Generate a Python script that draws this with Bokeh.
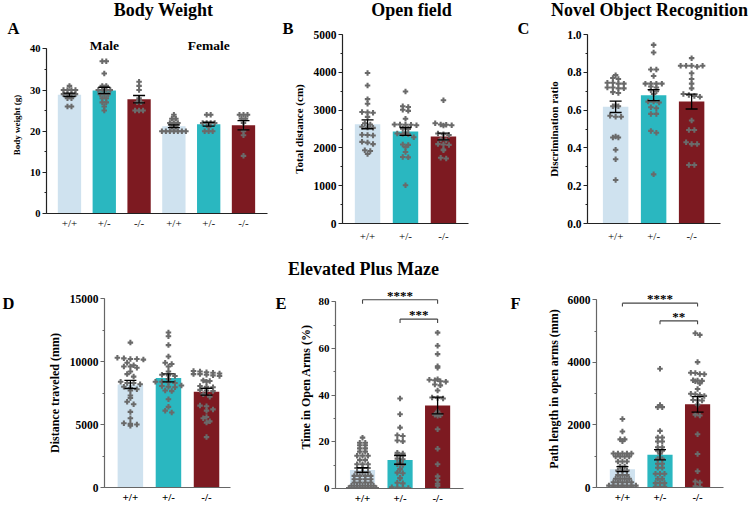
import numpy as np
from bokeh.plotting import figure
from bokeh.layouts import row, column
from bokeh.models import Range1d, FixedTicker, SingleIntervalTicker, NumeralTickFormatter, Label
from bokeh.embed import file_html
from bokeh.resources import INLINE

# ---------------- data ----------------
GENOTYPES = ["+/+", "+/-", "-/-"]
COLORS = ["#cfe2ef", "#2ab7c0", "#7d1a21"]

# A: Body weight (g)
bw_male_wt = [31, 30, 30, 30, 30, 29, 29, 29, 29, 28, 28, 26, 26]
bw_male_het = [37, 37, 34, 31, 31, 30, 30, 30, 30, 29, 29, 29, 28, 28, 27, 27, 26, 25]
bw_male_ko = [32, 31, 30, 28, 27, 27, 25, 25, 25]
bw_female_wt = [24, 23, 23, 22, 22, 22, 21, 21, 20, 20, 20, 20, 20, 20, 20]
bw_female_het = [24, 24, 22, 22, 22, 22, 21, 20, 20, 20]
bw_female_ko = [24, 24, 24, 23, 23, 22, 20, 19, 14]
sex_labels = ["Male", "Female"]

# B: Open field total distance (cm)
of_wt = [3980, 3650, 3290, 3170, 2950, 2940, 2930, 2820, 2650, 2620, 2560, 2540, 2530,
         2350, 2340, 2330, 2160, 2140, 2100, 1940, 1920, 1840]
of_het = [3490, 3100, 3080, 3010, 2980, 2770, 2620, 2620, 2610, 2610, 2600, 2510, 2500,
          2390, 2380, 2370, 2360, 2280, 2090, 2080, 2020, 1890, 1760, 1750, 1010]
of_ko = [3260, 2650, 2620, 2610, 2600, 2590, 2380, 2360, 2340, 2220, 2200, 2100, 2090,
         2080, 1960, 1940, 1740, 1720]

# C: NOR discrimination ratio
nor_wt = [0.785, 0.77, 0.765, 0.745, 0.745, 0.74, 0.74, 0.72, 0.72, 0.715, 0.715, 0.695,
          0.69, 0.625, 0.62, 0.62, 0.57, 0.565, 0.565, 0.46, 0.455, 0.455, 0.39, 0.34, 0.23]
nor_het = [0.945, 0.905, 0.815, 0.815, 0.78, 0.74, 0.74, 0.74, 0.74, 0.725, 0.72, 0.705,
           0.70, 0.685, 0.645, 0.645, 0.64, 0.615, 0.61, 0.58, 0.58, 0.49, 0.48, 0.26]
nor_ko = [0.875, 0.835, 0.835, 0.835, 0.83, 0.835, 0.795, 0.765, 0.74, 0.715, 0.685, 0.68,
          0.675, 0.67, 0.545, 0.495, 0.495, 0.43, 0.42, 0.42, 0.31, 0.31]

# D: EPM distance traveled (mm)
epm_dist_wt = [11500, 10300, 10250, 10200, 10200, 10150, 9900, 9700, 9600, 9600, 9500, 9200,
               9000, 8800, 8400, 8300, 8300, 8200, 8000, 7900, 7800, 7700, 7300, 7100, 6800,
               6600, 6000, 5500, 5100, 5050, 5000, 4900]
epm_dist_het = [12300, 12000, 11300, 10400, 9900, 9800, 9600, 9200, 8950, 8900, 8850, 8600,
                8400, 8400, 8350, 8300, 8100, 8050, 8000, 7950, 7700, 7650, 7000, 6400, 6100, 5950]
epm_dist_ko = [9250, 9200, 9150, 9100, 9050, 9000, 9000, 8950, 8900, 8850, 8500, 8450, 8400,
               8050, 8000, 7950, 7750, 7700, 7650, 7400, 7200, 6500, 6450, 6200, 6100, 5600,
               5500, 5250, 5150, 4000]

# E: time in open arms (%)
epm_time_wt = [21.8, 19.6, 19.6, 18.5, 18.5, 17.2, 17.2, 15.8, 15.8, 14.0, 14.0, 14.0, 12.2,
               12.2, 10.4, 10.4, 10.4, 8.8, 8.8, 8.8, 7.0, 7.0, 7.0, 5.4, 5.4, 5.4, 5.4, 4.0,
               4.0, 4.0, 4.0, 2.6, 2.6, 2.6, 2.6, 1.2, 1.2, 1.2, 1.2, 1.2, 0.2, 0.2, 0.2, 0.2,
               0.2, 0.2]
epm_time_het = [38.6, 31.8, 26.1, 22.8, 22.5, 20.6, 20.2, 15.3, 15.0, 14.6, 14.2, 12.8, 12.5,
                11.0, 10.4, 10.1, 8.5, 8.2, 6.8, 6.5, 4.6, 4.3, 2.5, 2.2, 0.5, 0.4, 0.3, 0.2]
epm_time_ko = [66.8, 61.2, 57.6, 52.4, 51.8, 46.8, 46.6, 46.4, 46.0, 45.8, 44.6, 44.2, 42.0,
               39.0, 38.8, 38.6, 33.0, 31.6, 31.4, 31.2, 25.4, 17.0, 10.4, 5.2, 3.6, 2.0, 1.2]
sig_time = [("+/+", "-/-", "****"), ("+/-", "-/-", "***")]

# F: path length in open arms (mm)
epm_path_wt = [2190, 1790, 1540, 1540, 1480, 1090, 1090, 1090, 1090, 1090, 990, 990, 990, 990,
               830, 830, 830, 670, 670, 540, 540, 540, 400, 400, 400, 280, 280, 280, 280,
               170, 170, 170, 170, 170, 60, 60, 60, 60, 60, 60, 60, 0, 0, 0, 0, 0]
epm_path_het = [3800, 2640, 2570, 2570, 1810, 1600, 1600, 1470, 1470, 1290, 1290, 1180, 1180,
                1080, 915, 915, 760, 760, 630, 630, 440, 440, 440, 280, 280, 140, 140, 140,
                20, 20, 20]
epm_path_ko = [4930, 4880, 4010, 3670, 3660, 3630, 3620, 3430, 3420, 3410, 3400, 3330, 3150,
               3000, 2980, 2960, 2930, 2800, 2790, 2780, 2650, 2330, 2300, 1700, 1070, 520,
               190, 160, 40, 20]
sig_path = [("+/+", "-/-", "****"), ("+/-", "-/-", "**")]

# ---------------- styling ----------------
SERIF = "Liberation Serif"
PT_COLOR = "#6a6a6a"
BAR_W = 0.67


def swarm(vals, ppu_y, ppu_x, dx_px=5.0, bin_px=4.0):
    vals = np.asarray(vals, float)
    bins = np.round(vals * ppu_y / bin_px).astype(int)
    offs = np.zeros(len(vals))
    for b in np.unique(bins):
        idx = np.where(bins == b)[0]
        n = len(idx)
        offs[idx] = (np.arange(n) - (n - 1) / 2.0) * dx_px / ppu_x
    return offs


def panel(groups, labels, colors, w, h, bl, br, bt, bb, xr, yr, ybound, interval,
          ylabel, fmt, axc, tick_fs, lab_fs, xlab_fs, xlab_bold, xstand, lab_stand,
          dx_px=5.0, bin_px=4.0):
    p = figure(width=w, height=h, output_backend="svg", toolbar_location=None,
               x_range=Range1d(*xr), y_range=Range1d(*yr), min_border_left=bl,
               min_border_right=br, min_border_top=bt, min_border_bottom=bb)
    p.frame_align = False
    p.xgrid.visible = False
    p.ygrid.visible = False
    p.outline_line_color = None
    p.background_fill_color = None
    p.border_fill_color = None
    fw = w - bl - br
    fh = h - bt - bb
    ppu_x = fw / (xr[1] - xr[0])
    ppu_y = fh / (yr[1] - yr[0])
    pos = np.arange(len(groups), dtype=float)
    means = np.array([np.mean(g) for g in groups])
    sems = np.array([np.std(g, ddof=1) / np.sqrt(len(g)) for g in groups])
    p.vbar(x=pos, top=means, width=BAR_W, fill_color=colors, line_color=None)
    for i, g in enumerate(groups):
        offs = swarm(g, ppu_y, ppu_x, dx_px, bin_px)
        p.scatter(x=pos[i] + offs, y=g, marker="plus", size=5.5, color=PT_COLOR, line_color=None)
    cw = 6.0 / ppu_x
    p.segment(x0=pos, y0=means - sems, x1=pos, y1=means + sems, line_color="black", line_width=1.3)
    p.segment(x0=pos - cw, y0=means + sems, x1=pos + cw, y1=means + sems, line_color="black", line_width=1.3)
    p.segment(x0=pos - cw, y0=means - sems, x1=pos + cw, y1=means - sems, line_color="black", line_width=1.3)

    yax = p.yaxis[0]
    yax.ticker = SingleIntervalTicker(interval=interval, num_minor_ticks=2)
    yax.bounds = ybound
    yax.formatter = NumeralTickFormatter(format=fmt)
    yax.major_tick_out = 4
    yax.major_tick_in = 0
    yax.minor_tick_out = 2
    yax.minor_tick_in = 0
    yax.axis_line_color = axc
    yax.major_tick_line_color = axc
    yax.minor_tick_line_color = axc
    yax.axis_line_width = 1.2
    yax.major_label_text_font = SERIF
    yax.major_label_text_font_style = "bold"
    yax.major_label_text_font_size = f"{tick_fs}px"
    yax.major_label_text_color = "black"
    yax.major_label_standoff = 2
    yax.axis_label = ylabel
    yax.axis_label_text_font = SERIF
    yax.axis_label_text_font_style = "bold"
    yax.axis_label_text_font_size = f"{lab_fs}px"
    yax.axis_label_text_color = "black"
    yax.axis_label_standoff = lab_stand

    xax = p.xaxis[0]
    xax.ticker = FixedTicker(ticks=list(pos))
    xax.major_label_overrides = {float(i): lab for i, lab in enumerate(labels)}
    xax.major_tick_line_color = None
    xax.minor_tick_line_color = None
    xax.major_tick_out = 0
    xax.axis_line_color = axc
    xax.axis_line_width = 1.2
    xax.major_label_text_font = SERIF
    xax.major_label_text_font_style = "bold" if xlab_bold else "normal"
    xax.major_label_text_font_size = f"{xlab_fs}px"
    xax.major_label_text_color = "black"
    xax.major_label_standoff = xstand
    return p


def add_text(p, x, y, text, size, align="left", bold=True):
    # y is the visual centre of the text
    p.add_layout(Label(x=x, y=y, x_units="data", y_units="data", text=text,
                       text_font=SERIF, text_font_style="bold" if bold else "normal",
                       text_font_size=f"{size}px", text_align=align, text_baseline="middle",
                       text_color="black"))


def add_brackets(p, sigs, levels, star_levels, drop, star_fs):
    for (a, b, stars), lvl, slvl in zip(sigs, levels, star_levels):
        xa = GENOTYPES.index(a)
        xb = GENOTYPES.index(b)
        p.segment(x0=[xa, xa, xb], y0=[lvl, lvl - drop, lvl - drop], x1=[xb, xa, xb],
                  y1=[lvl, lvl, lvl], line_color="#444444", line_width=1.1)
        add_text(p, (xa + xb) / 2, slvl, stars, star_fs, align="center")


TOP_AX = "#222222"
BOT_AX = "#666666"

# Panel A
pA = panel([bw_male_wt, bw_male_het, bw_male_ko, bw_female_wt, bw_female_het, bw_female_ko],
           GENOTYPES * 2, COLORS * 2, 275, 250, 46, 8, 36, 37,
           (-0.66, 5.69), (0, 43), (0, 40), 10, "Body weight (g)", "0", TOP_AX,
           10.5, 9, 11, False, 3, 5, dx_px=4.0, bin_px=3.5)
add_text(pA, 1, 40.7, sex_labels[0], 13.5, align="center")
add_text(pA, 4, 40.7, sex_labels[1], 13.5, align="center")

# Panel B
pB = panel([of_wt, of_het, of_ko], GENOTYPES, COLORS, 235, 250, 67, 42, 34, 27,
           (-0.66, 2.66), (0, 5000), (0, 5000), 1000, "Total distance (cm)", "0", TOP_AX,
           11.5, 11, 11, False, 6, 6, dx_px=5.5, bin_px=4.0)

# Panel C
pC = panel([nor_wt, nor_het, nor_ko], GENOTYPES, COLORS, 245, 250, 77, 35, 34, 27,
           (-0.74, 2.76), (0, 1.0), (0, 1.0), 0.2, "Discrimination ratio", "0.0", TOP_AX,
           11.5, 11, 11, False, 6, 4, dx_px=5.5, bin_px=4.0)

# Panel D
pD = panel([epm_dist_wt, epm_dist_het, epm_dist_ko], GENOTYPES, COLORS, 265, 256, 104, 35, 48, 19,
           (-0.68, 2.63), (0, 15000), (0, 15000), 5000, "Distance traveled (mm)", "0", BOT_AX,
           11.5, 12, 11, True, 3, 5, dx_px=6.5, bin_px=4.0)

# Panel E
pE = panel([epm_time_wt, epm_time_het, epm_time_ko], GENOTYPES, COLORS, 240, 256, 70, 42, 35, 17,
           (-0.72, 2.69), (0, 87), (0, 80), 20, "Time in Open Arms (%)", "0", BOT_AX,
           11, 12, 11, True, 3, 3, dx_px=5.5, bin_px=3.0)
add_brackets(pE, sig_time, [80.9, 72.6], [82.6, 74.5], 1.7, 13)

# Panel F
pF = panel([epm_path_wt, epm_path_het, epm_path_ko], GENOTYPES, COLORS, 250, 256, 91, 32, 40, 19,
           (-0.69, 2.69), (0, 6300), (0, 6000), 2000, "Path length in open arms (mm)", "0", BOT_AX,
           11.5, 12, 11, True, 3, 4, dx_px=4.5, bin_px=3.0)
add_brackets(pF, sig_path, [5895, 5330], [6037, 5475], 110, 13)

# Overlay with panel titles and letters (page-pixel coordinates, text centres)
ov = figure(width=755, height=506, output_backend="svg", toolbar_location=None,
            x_range=Range1d(0, 755), y_range=Range1d(506, 0), x_axis_type=None, y_axis_type=None,
            min_border_left=0, min_border_right=0, min_border_top=0, min_border_bottom=0,
            styles={"position": "absolute", "left": "0px", "top": "0px"})
ov.frame_align = False
ov.xgrid.visible = False
ov.ygrid.visible = False
ov.outline_line_color = None
ov.background_fill_color = None
ov.border_fill_color = None

titles = [("Body Weight", 163, 9), ("Open field", 411, 9), ("Novel Object Recognition", 649, 9),
          ("Elevated Plus Maze", 363, 268)]
for txt, x, y in titles:
    add_text(ov, x, y, txt, 18, align="center")
letters = [("A", 7, 27.5), ("B", 282, 27.5), ("C", 517, 27.5), ("D", 2, 302.5), ("E", 275, 302.5),
           ("F", 510, 302.5)]
for txt, x, y in letters:
    add_text(ov, x, y, txt, 16.5)

layout = column(row(pA, pB, pC, spacing=0), row(pD, pE, pF, spacing=0), ov, spacing=0,
                width=755, height=506,
                styles={"position": "absolute", "left": "0px", "top": "0px", "overflow": "hidden"})

open("out.html", "w").write(file_html(layout, INLINE))
